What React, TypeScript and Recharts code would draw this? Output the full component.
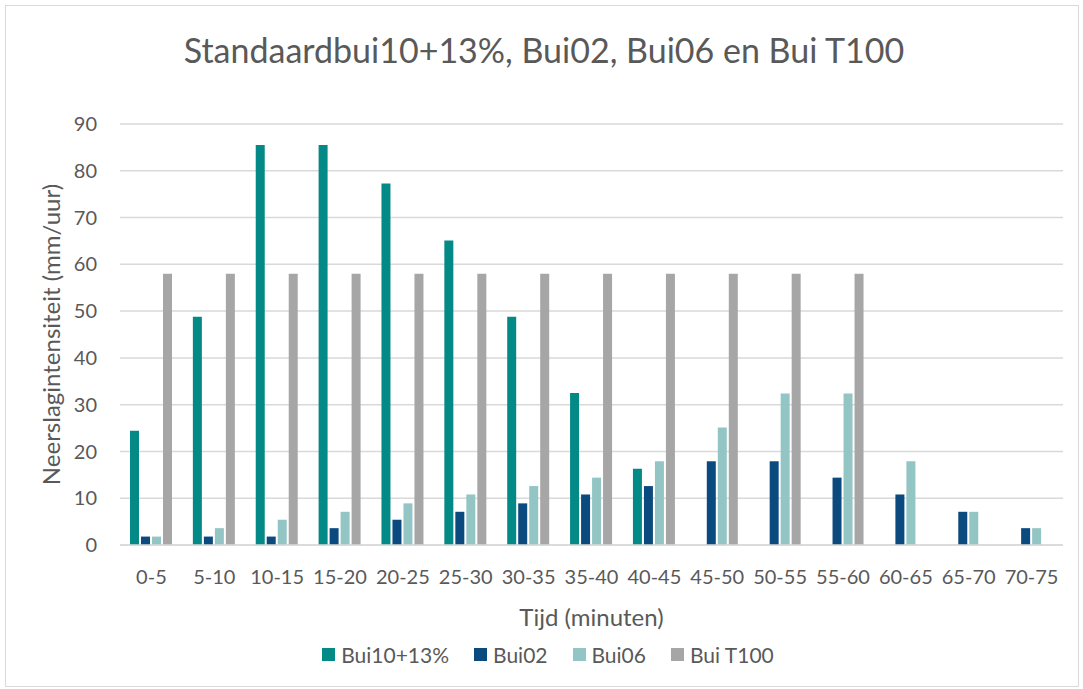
import { BarChart, Bar, XAxis, YAxis, CartesianGrid, Legend } from 'recharts';

// Tijdvakken (minuten)
const tijdvakken = [
  '0-5', '5-10', '10-15', '15-20', '20-25', '25-30', '30-35', '35-40',
  '40-45', '45-50', '50-55', '55-60', '60-65', '65-70', '70-75',
];

// Neerslagintensiteit (mm/uur) per bui
const bui10 = [24.4, 48.8, 85.5, 85.5, 77.3, 65.1, 48.8, 32.5, 16.3, null, null, null, null, null, null];
const bui02 = [1.8, 1.8, 1.8, 3.6, 5.4, 7.1, 8.9, 10.8, 12.6, 17.9, 17.9, 14.4, 10.8, 7.1, 3.6];
const bui06 = [1.8, 3.6, 5.4, 7.1, 8.9, 10.8, 12.6, 14.4, 17.9, 25.1, 32.4, 32.4, 17.9, 7.1, 3.6];
const buiT100 = [58, 58, 58, 58, 58, 58, 58, 58, 58, 58, 58, 58, null, null, null];

const yTicks = [0, 10, 20, 30, 40, 50, 60, 70, 80, 90];

const series = [
  { key: 'bui10', name: 'Bui10+13%', color: '#048A86' },
  { key: 'bui02', name: 'Bui02', color: '#0A4A7E' },
  { key: 'bui06', name: 'Bui06', color: '#93C5C4' },
  { key: 'buiT100', name: 'Bui T100', color: '#A6A6A6' },
];

const data = tijdvakken.map((t, i) => ({
  t,
  bui10: bui10[i],
  bui02: bui02[i],
  bui06: bui06[i],
  buiT100: buiT100[i],
}));

const FONT = 'Lato, "Noto Sans", sans-serif';
const TEXT = '#595959';

// Legend in vaste volgorde (Recharts sorteert anders op naam)
function LegendContent() {
  return (
    <div
      style={{
        display: 'flex',
        justifyContent: 'center',
        alignItems: 'center',
        height: 40,
        paddingLeft: 33,
        boxSizing: 'border-box',
        fontFamily: FONT,
        fontSize: 21,
        color: TEXT,
      }}
    >
      {series.map((s, i) => (
        <div
          key={s.key}
          style={{ display: 'flex', alignItems: 'center', marginRight: i < series.length - 1 ? 25 : 0 }}
        >
          <span style={{ width: 13, height: 13, background: s.color, marginRight: 6, display: 'inline-block' }} />
          <span>{s.name}</span>
        </div>
      ))}
    </div>
  );
}

export default function App() {
  return (
    <div
      style={{
        position: 'fixed',
        left: 0,
        top: 0,
        width: 1083,
        height: 689,
        background: '#fff',
        fontFamily: FONT,
      }}
    >
      <div
        style={{
          position: 'absolute',
          left: 5,
          top: 5,
          width: 1074,
          height: 682,
          border: '1px solid #d9d9d9',
          boxSizing: 'border-box',
        }}
      />
      <div
        style={{
          position: 'absolute',
          left: 0,
          top: 29,
          width: 1088,
          textAlign: 'center',
          fontSize: 34,
          color: TEXT,
          whiteSpace: 'nowrap',
        }}
      >
        Standaardbui10+13%, Bui02, Bui06 en Bui T100
      </div>
      <div style={{ position: 'absolute', left: 0, top: 0 }}>
        <BarChart
          width={1083}
          height={689}
          data={data}
          margin={{ top: 124, right: 20, bottom: 15, left: 0 }}
          barGap={2}
          barSize={9}
        >
          <CartesianGrid vertical={false} stroke="#d9d9d9" strokeWidth={1.5} />
          <XAxis
            dataKey="t"
            height={89}
            tickLine={false}
            axisLine={{ stroke: '#d9d9d9', strokeWidth: 1.5 }}
            tick={{ fill: TEXT, fontSize: 20, fontFamily: FONT }}
            tickMargin={19}
            interval={0}
            label={{
              value: 'Tijd (minuten)',
              position: 'insideBottom',
              offset: 8,
              fill: TEXT,
              fontSize: 24,
              fontFamily: FONT,
            }}
          />
          <YAxis
            width={120}
            domain={[0, 90]}
            ticks={yTicks}
            tickLine={false}
            axisLine={false}
            tick={{ fill: TEXT, fontSize: 20, fontFamily: FONT }}
            tickMargin={17}
            label={{
              value: 'Neerslagintensiteit (mm/uur)',
              angle: -90,
              position: 'insideLeft',
              offset: 51,
              style: { textAnchor: 'middle' },
              fill: TEXT,
              fontSize: 24,
              fontFamily: FONT,
            }}
          />
          <Legend verticalAlign="bottom" height={40} content={() => <LegendContent />} />
          {series.map((s) => (
            <Bar key={s.key} dataKey={s.key} name={s.name} fill={s.color} isAnimationActive={false} />
          ))}
        </BarChart>
      </div>
    </div>
  );
}
